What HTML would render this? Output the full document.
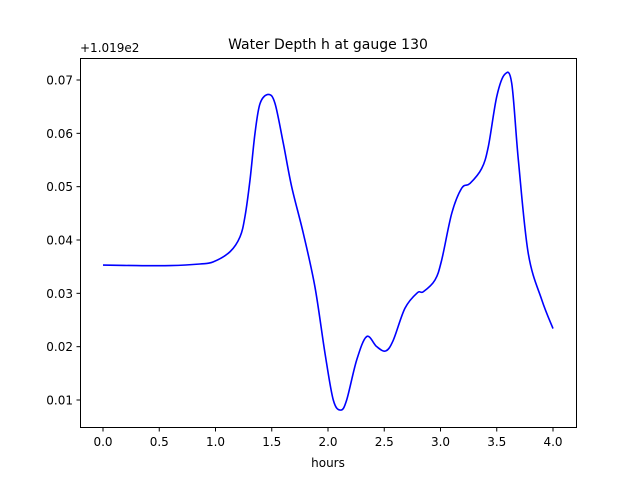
<!DOCTYPE html>
<html><head><meta charset="utf-8"><style>
body{margin:0;background:#fff;}
svg text{font-family:"DejaVu Sans","Liberation Sans",sans-serif;fill:#000;}
</style></head><body>
<svg width="640" height="480" xmlns="http://www.w3.org/2000/svg">
<rect x="0" y="0" width="640" height="480" fill="#fff"/>
<text x="328" y="49" font-size="14" text-anchor="middle">Water Depth h at gauge 130</text>
<text x="80" y="52" font-size="12">+1.019e2</text>
<text x="328" y="467" font-size="12" text-anchor="middle">hours</text>
<g id="ticks"></g>
<path id="line" fill="none" stroke="#0000ff" stroke-width="1.6" stroke-linejoin="round"/>
<rect x="80.5" y="58.5" width="496" height="369" fill="none" stroke="#000" stroke-width="1"/>
</svg>
<script>
const hours=[0,0.3,0.6,0.862,0.98,1.129,1.218,1.262,1.307,1.351,1.396,1.47,1.529,1.603,1.677,1.78,1.884,1.973,2.047,2.113,2.166,2.255,2.344,2.433,2.513,2.58,2.684,2.794,2.847,2.951,3.01,3.10,3.188,3.262,3.366,3.425,3.50,3.573,3.633,3.692,3.78,3.90,4.0];
const depth=[0.0353,0.0352,0.0352,0.0355,0.0359,0.0378,0.0406,0.0444,0.0513,0.060,0.0656,0.0673,0.0656,0.0581,0.050,0.0413,0.0312,0.0188,0.010,0.0081,0.010,0.0175,0.0219,0.020,0.0192,0.0212,0.0272,0.0301,0.0303,0.0325,0.0362,0.045,0.0497,0.0506,0.0534,0.0575,0.0669,0.0711,0.0694,0.055,0.0375,0.0288,0.0234];
const xTicks=[0,0.5,1,1.5,2,2.5,3,3.5,4];
const yTicks=[0.01,0.02,0.03,0.04,0.05,0.06,0.07];
const X=h=>103+h*112.5;
const Y=v=>400-(v-0.01)*5333.3;
const NS="http://www.w3.org/2000/svg";
const g=document.getElementById('ticks');
function mk(tag,attrs){const e=document.createElementNS(NS,tag);for(const k in attrs)e.setAttribute(k,attrs[k]);g.appendChild(e);return e;}
xTicks.forEach(t=>{
 const l=mk('line',{x1:X(t),x2:X(t),y1:427.5,y2:431.5,stroke:'#000'});
 
 
 const s=mk('text',{x:X(t),y:446,'font-size':12,'text-anchor':'middle'});
 s.textContent=t.toFixed(1);
 
 
});
yTicks.forEach(t=>{
 const l=mk('line',{x1:76.5,x2:80.5,y1:Y(t),y2:Y(t),stroke:'#000'});
 
 
 const s=mk('text',{x:73,y:Y(t)+4.5,'font-size':12,'text-anchor':'end'});
 s.textContent=t.toFixed(2);
 
 
});
// Catmull-Rom smoothing
const P=hours.map((h,i)=>[X(h),Y(depth[i])]);
let d='M'+P[0][0]+','+P[0][1];
for(let i=0;i<P.length-1;i++){
 const p0=P[Math.max(0,i-1)],p1=P[i],p2=P[i+1],p3=P[Math.min(P.length-1,i+2)];
 const c1=[p1[0]+(p2[0]-p0[0])/6,p1[1]+(p2[1]-p0[1])/6];
 const c2=[p2[0]-(p3[0]-p1[0])/6,p2[1]-(p3[1]-p1[1])/6];
 d+=' C'+c1.join(',')+' '+c2.join(',')+' '+p2.join(',');
}
document.getElementById('line').setAttribute('d',d);
</script>
</body></html>
